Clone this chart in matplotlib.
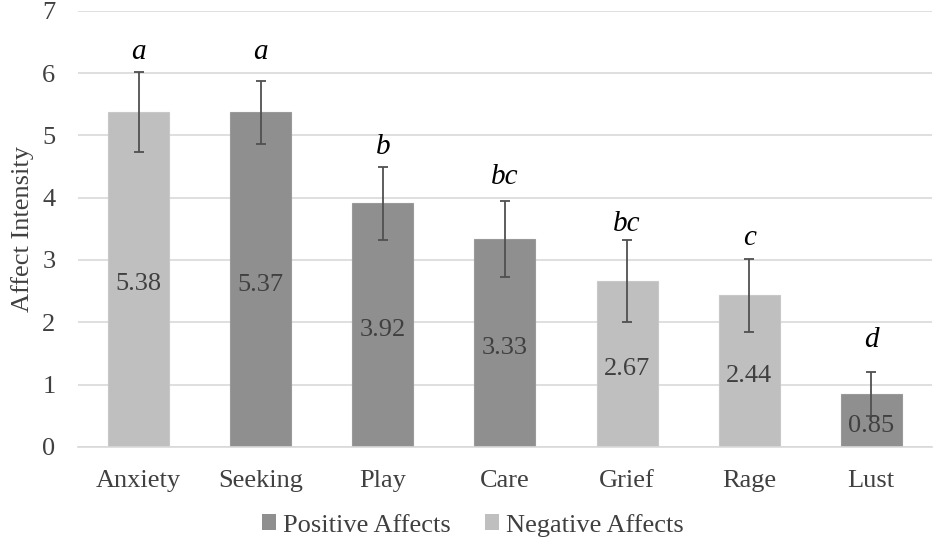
import numpy as np
import matplotlib.pyplot as plt
from matplotlib.patches import Patch

plt.rcParams['font.family'] = ['Liberation Serif', 'DejaVu Serif']

# data
categories = ['Anxiety', 'Seeking', 'Play', 'Care', 'Grief', 'Rage', 'Lust']
means = [5.38, 5.37, 3.92, 3.33, 2.67, 2.44, 0.85]
err_low = [0.64, 0.50, 0.60, 0.61, 0.66, 0.59, 0.35]
err_high = [0.63, 0.50, 0.58, 0.62, 0.65, 0.58, 0.35]
affect_type = ['neg', 'pos', 'pos', 'pos', 'neg', 'neg', 'pos']
letters = ['a', 'a', 'b', 'bc', 'bc', 'c', 'd']
letter_y = [6.23, 6.23, 4.70, 4.22, 3.47, 3.24, 1.61]

pos_color = '#8f8f8f'
neg_color = '#bfbfbf'
text_color = '#404040'

fig = plt.figure(figsize=(9.36, 5.41), dpi=100)
ax = fig.add_axes([0.083, 0.174, 0.913, 0.806])

x = np.arange(len(categories))
colors = [pos_color if t == 'pos' else neg_color for t in affect_type]
edges = ['#9a9a9a' if t == 'pos' else '#c8c8c8' for t in affect_type]

ax.bar(x, means, width=0.5, color=colors, edgecolor=edges, linewidth=0.8, zorder=2)
ax.errorbar(x, means, yerr=[err_low, err_high], fmt='none', ecolor='#505050',
            elinewidth=1.3, capsize=3.5, capthick=1.3, zorder=3)

for xi, m, ly, lt in zip(x, means, letter_y, letters):
    ax.annotate(f'{m:.2f}', (xi, m / 2), xytext=(0, -8), textcoords='offset points',
                ha='center', va='baseline', fontsize=19, color=text_color, zorder=4)
    ax.text(xi, ly, lt, ha='center', va='baseline', fontsize=21,
            fontstyle='italic', color='black')

ax.set_ylim(0, 7)
ax.set_xlim(-0.5, len(categories) - 0.5)
ax.set_yticks(range(0, 8))
ax.set_xticks(x)
ax.set_xticklabels(categories)
ax.yaxis.grid(True, color='#d9d9d9', linewidth=1.2, zorder=0)
ax.set_axisbelow(True)
for s in ['top', 'right', 'left']:
    ax.spines[s].set_visible(False)
ax.spines['bottom'].set_color('#d9d9d9')
ax.spines['bottom'].set_linewidth(1.2)
ax.tick_params(axis='both', length=0, labelsize=19, labelcolor=text_color)
ax.tick_params(axis='y', pad=16)
ax.tick_params(axis='x', pad=17)
ax.set_ylabel('Affect Intensity', fontsize=19, color=text_color, labelpad=6)

handles = [Patch(facecolor=pos_color, label='Positive Affects'),
           Patch(facecolor=neg_color, label='Negative Affects')]
fig.legend(handles=handles, loc='lower center', bbox_to_anchor=(0.505, -0.036), ncol=2,
           frameon=False, fontsize=19, handlelength=0.55, handleheight=0.55,
           handletextpad=0.25, columnspacing=1.3, labelcolor=text_color)

fig.savefig('out.png', dpi=100)
